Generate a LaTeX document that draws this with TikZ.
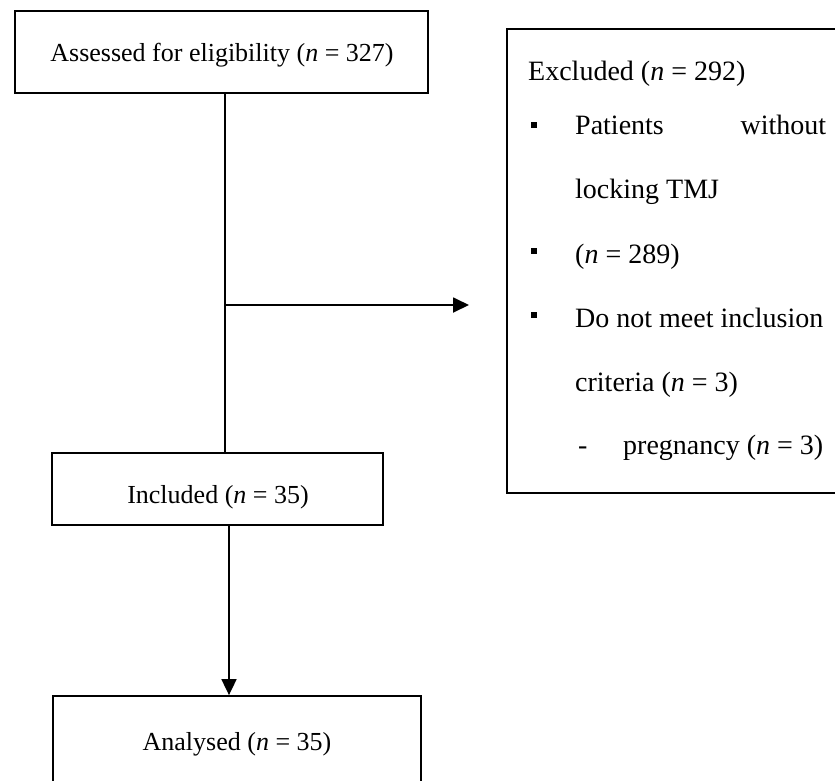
\documentclass[tikz,border=0pt]{standalone}
\usepackage{fontspec}
\setmainfont{Liberation Serif}
\usetikzlibrary{arrows.meta}
\begin{document}
\begin{tikzpicture}[x=1pt,y=-1pt,
  box/.style={draw, line width=1.8pt, inner sep=0pt},
  ltxt/.style={anchor=base, inner sep=0pt, font=\fontsize{26}{30}\selectfont},
  txt/.style={anchor=base west, inner sep=0pt, font=\fontsize{28}{32}\selectfont},
  bul/.style={fill=black, minimum size=6.5pt, inner sep=0pt},
  conn/.style={line width=1.8pt},
  arr/.style={line width=1.8pt, -{Triangle[length=16pt,width=15pt]}}]
\useasboundingbox (0,0) rectangle (835,780);
\begin{scope}
\clip (0,0) rectangle (835,780);
\node[box, minimum width=413pt, minimum height=82pt] (assessed) at (221.5,52) {};
\node[box, minimum width=331pt, minimum height=72pt] (included) at (217.5,489) {};
\node[box, minimum width=368pt, minimum height=100pt] (analysed) at (237,746) {};
\node[box, minimum width=360pt, minimum height=464pt] (excluded) at (687,261) {};
\end{scope}
\node[ltxt] (asstext) at (222,61) {Assessed for eligibility (\textit{n} = 327)};
\node[ltxt] (inctext) at (218,503) {Included (\textit{n} = 35)};
\node[ltxt] (antext) at (237,750) {Analysed (\textit{n} = 35)};
\node[txt] (t1) at (528,80) {Excluded (\textit{n} = 292)};
\node[txt] (t2) at (575,134) {\hbox to 251pt{Patients\hfill without}};
\node[txt] (t3) at (575,198) {locking TMJ};
\node[txt] (t4) at (575,263) {(\textit{n} = 289)};
\node[txt] (t5) at (575,327) {Do not meet inclusion};
\node[txt] (t6) at (575,391) {criteria (\textit{n} = 3)};
\node[txt] (t7) at (578,454) {-};
\node[txt] (t8) at (623,454) {pregnancy (\textit{n} = 3)};
\foreach \y/\n in {125/b1,251/b2,315/b3}{
  \node[bul] (\n) at (534,\y) {};
}
\coordinate (j) at (225,305);
\coordinate (arrend) at (469,305);
\coordinate (a) at (229,600);
\draw[conn] (assessed.south -| j) -- (included.north -| j);
\draw[arr] (j) -- (arrend);
\draw[arr] (included.south -| a) -- (analysed.north -| a);
\end{tikzpicture}
\end{document}
